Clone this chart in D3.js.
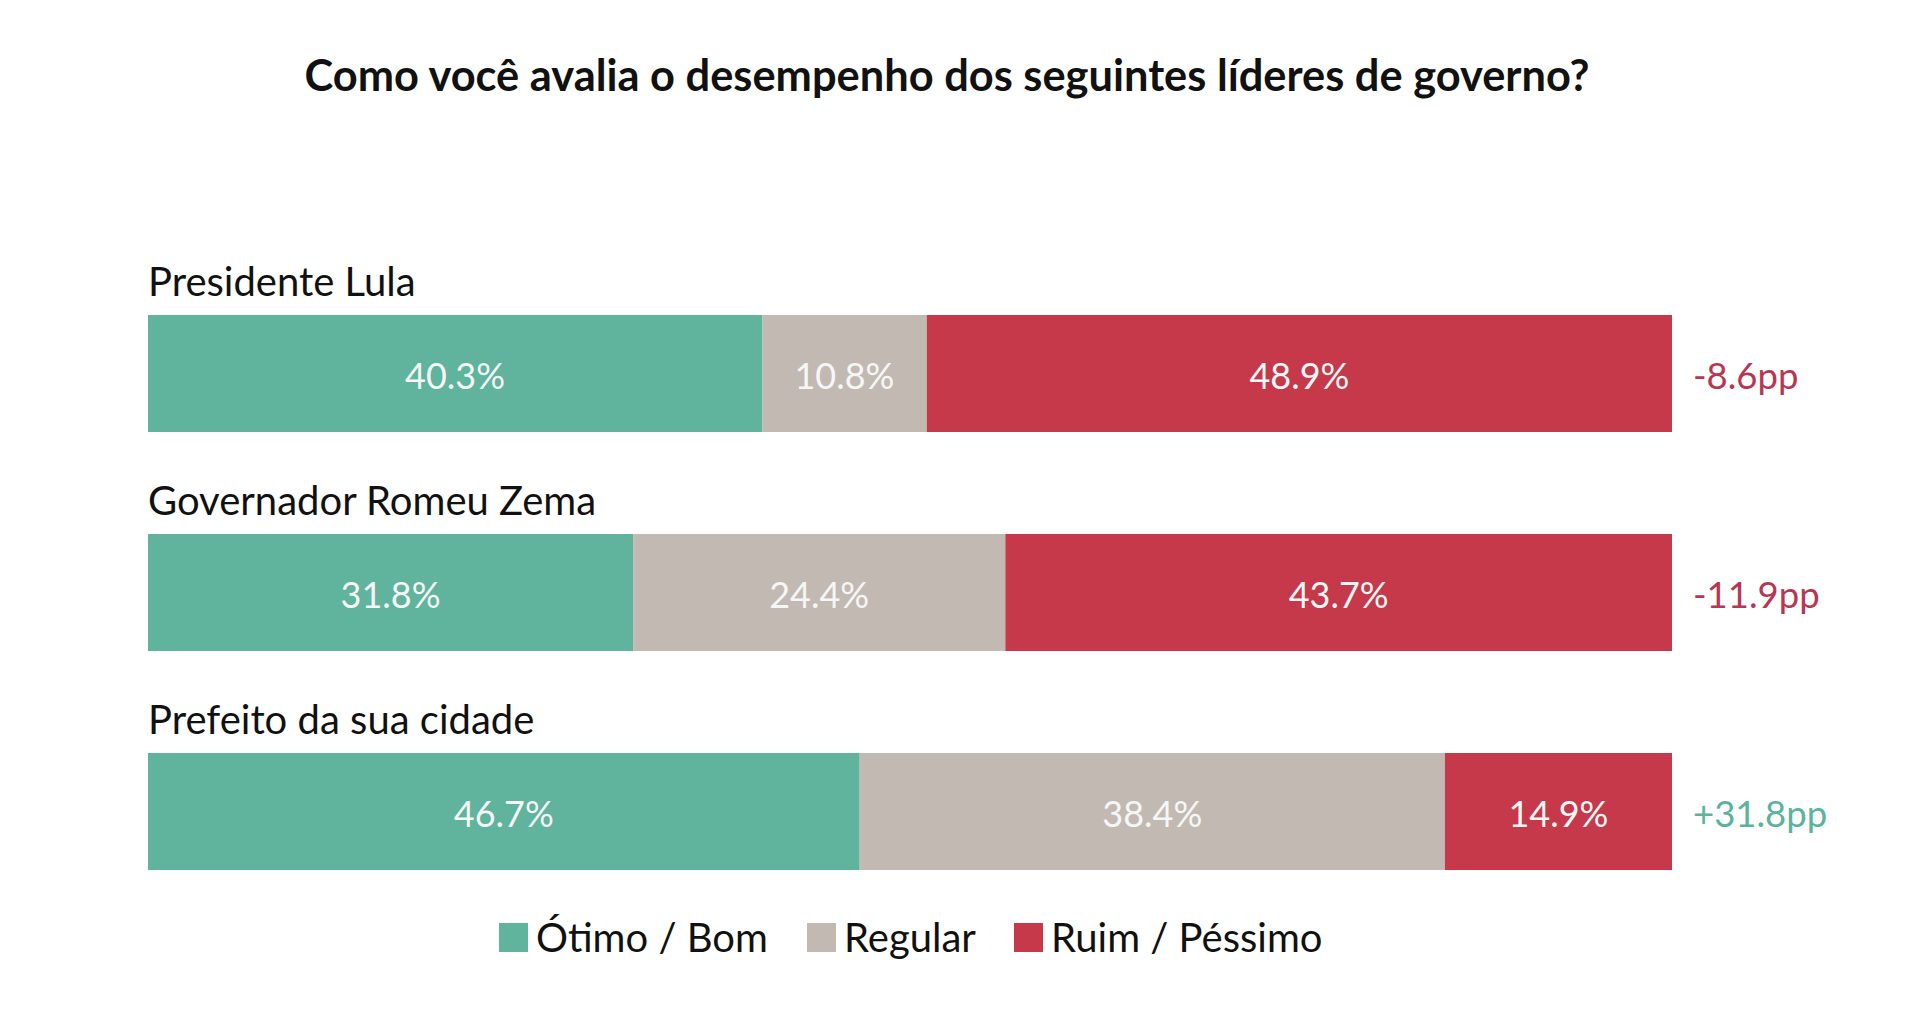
<!DOCTYPE html>
<html>
<head>
<meta charset="utf-8">
<script src="https://cdn.jsdelivr.net/npm/d3@7"></script>
<style>
  body { margin: 0; background: #fff; }
  svg text { font-family: Lato, "Open Sans", sans-serif; }
</style>
</head>
<body>
<div class="chart"></div>
<script>
// data
let leaders = ["Presidente Lula", "Governador Romeu Zema", "Prefeito da sua cidade"];
let categories = ["Ótimo / Bom", "Regular", "Ruim / Péssimo"];
let otimo = [40.3, 31.8, 46.7];
let regular = [10.8, 24.4, 38.4];
let ruim = [48.9, 43.7, 14.9];
let saldo = ["-8.6pp", "-11.9pp", "+31.8pp"];
let saldoSign = [-1, -1, 1];

let colors = ["#60b39c", "#c3b9b3", "#c6394a"];

let chart = {};
chart.width = 1914;
chart.height = 1032;
chart.margin = { left: 148, right: 242 };

chart.svg = d3.select(".chart").append("svg")
    .attr("width", chart.width)
    .attr("height", chart.height);

//title
chart.svg.append("text")
    .attr("x", 947)
    .attr("y", 91)
    .attr("text-anchor", "middle")
    .style("font-size", "43.4px")
    .style("font-weight", 700)
    .style("fill", "#111")
    .text("Como você avalia o desempenho dos seguintes líderes de governo?");

//rows
let rows = leaders.map((name, i) => ({
    name: name,
    vals: [otimo[i], regular[i], ruim[i]],
    saldo: saldo[i],
    sign: saldoSign[i]
}));

// bars 117px tall, 219px apart
chart.y = d3.scalePoint().domain(leaders).range([315, 753]);
let barH = 117;

let row = chart.svg.selectAll("g.row")
    .data(rows)
    .enter().append("g")
    .attr("class", "row")
    .attr("transform", d => `translate(0,${chart.y(d.name)})`);

row.append("text")
    .attr("x", chart.margin.left)
    .attr("y", -19)
    .style("font-size", "40px")
    .style("fill", "#111")
    .text(d => d.name);

row.each(function(d) {
    let total = d3.sum(d.vals);
    let x = d3.scaleLinear().domain([0, total]).range([chart.margin.left, chart.width - chart.margin.right]);
    let stacked = [];
    let acc = 0;
    d.vals.forEach((v, k) => { stacked.push({ k: k, v: v, x0: acc, x1: acc + v }); acc += v; });

    let g = d3.select(this);
    g.selectAll("rect")
        .data(stacked)
        .enter().append("rect")
        .attr("x", s => x(s.x0))
        .attr("width", s => x(s.x1) - x(s.x0))
        .attr("y", 0)
        .attr("height", barH)
        .style("fill", s => colors[s.k]);

    g.selectAll("text.val")
        .data(stacked)
        .enter().append("text")
        .attr("class", "val")
        .attr("x", s => (x(s.x0) + x(s.x1)) / 2)
        .attr("y", barH / 2 + 3)
        .attr("dy", "0.35em")
        .attr("text-anchor", "middle")
        .style("font-size", "36px")
        .style("fill", "#f4f7f5")
        .text(s => d3.format(".1f")(s.v) + "%");

    g.append("text")
        .attr("x", chart.width - chart.margin.right + 21)
        .attr("y", barH / 2 + 3)
        .attr("dy", "0.35em")
        .style("font-size", "36.5px")
        .style("fill", d.sign < 0 ? "#b83652" : "#5bb39c")
        .text(d.saldo);
});

//legend
let legendX = [499, 807, 1014];
let legend = chart.svg.selectAll("g.legend")
    .data(categories)
    .enter().append("g")
    .attr("class", "legend")
    .attr("transform", (d, i) => `translate(${legendX[i]},923)`);

legend.append("rect")
    .attr("width", 29)
    .attr("height", 29)
    .style("fill", (d, i) => colors[i]);

legend.append("text")
    .attr("x", 37)
    .attr("y", 14.5)
    .attr("dy", "0.36em")
    .style("font-size", "40px")
    .style("fill", "#111")
    .text(d => d);
</script>
</body>
</html>
